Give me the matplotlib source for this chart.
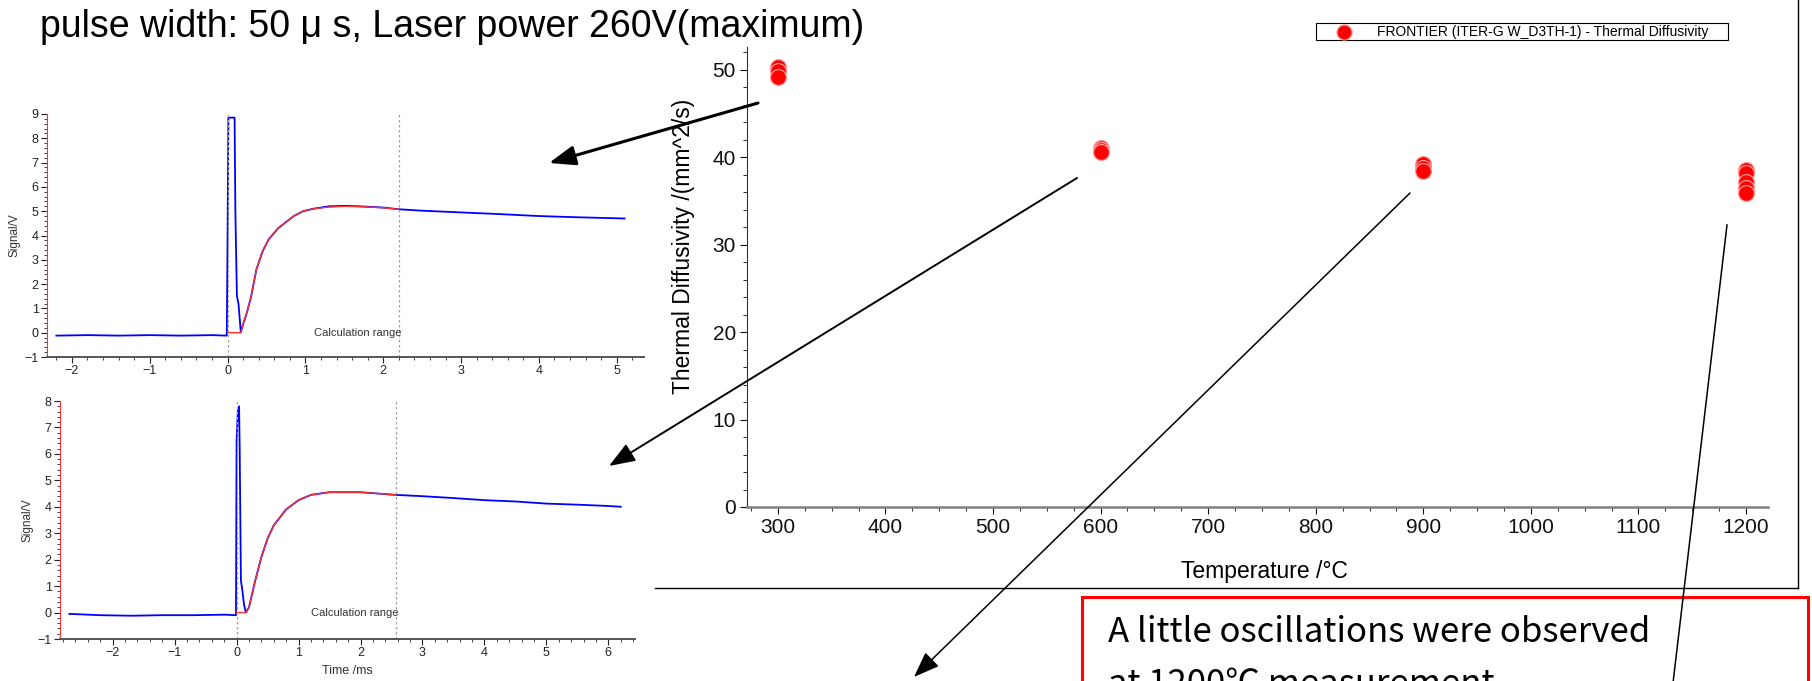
import numpy as np
import matplotlib
matplotlib.use('Agg')
import matplotlib.pyplot as plt
from matplotlib.lines import Line2D
from matplotlib.patches import Rectangle
from matplotlib.ticker import MultipleLocator

SANS = ['Liberation Sans', 'DejaVu Sans']
JP = ['Noto Sans CJK JP', 'DejaVu Sans']

# thermal diffusivity vs temperature
temp = [300, 300, 300, 600, 600, 600, 900, 900, 900, 1200, 1200, 1200, 1200, 1200]
diffusivity = [50.3, 49.9, 49.2, 41.1, 40.8, 40.6, 39.2, 38.8, 38.4, 38.5, 38.2, 37.2, 36.5, 35.9]

# signal at 300C (top inset)
t_top = [-2.2, -1.8, -1.4, -1.0, -0.6, -0.2, -0.01, 0.0, 0.01, 0.09, 0.1, 0.12, 0.14, 0.17,
         0.2, 0.25, 0.3, 0.37, 0.45, 0.53, 0.65, 0.75, 0.85, 0.97, 1.1, 1.3, 1.5, 1.7, 2.0,
         2.2, 2.5, 3.0, 3.5, 4.0, 4.5, 5.1]
v_top = [-0.12, -0.1, -0.12, -0.1, -0.12, -0.1, -0.12, 4.0, 8.85, 8.85, 5.0, 1.5, 1.2, 0.02,
         0.35, 0.85, 1.45, 2.6, 3.35, 3.85, 4.3, 4.55, 4.8, 5.0, 5.1, 5.2, 5.22, 5.2, 5.15,
         5.08, 5.02, 4.95, 4.88, 4.8, 4.75, 4.7]
fit_t_top = [0.0, 0.17, 0.2, 0.25, 0.3, 0.37, 0.45, 0.53, 0.65, 0.75, 0.85, 0.97, 1.1, 1.3,
             1.5, 1.7, 2.0, 2.2]
fit_v_top = [0.0, 0.0, 0.35, 0.85, 1.45, 2.6, 3.35, 3.85, 4.3, 4.55, 4.8, 5.0, 5.1, 5.17,
             5.2, 5.19, 5.14, 5.08]
range_top = 2.2

# signal at 600C (bottom inset)
t_bot = [-2.7, -2.2, -1.7, -1.2, -0.7, -0.2, -0.01, 0.0, 0.02, 0.04, 0.05, 0.07, 0.09, 0.12,
         0.15, 0.2, 0.3, 0.4, 0.5, 0.6, 0.8, 1.0, 1.2, 1.5, 2.0, 2.57, 3.0, 3.5, 4.0, 4.5,
         5.0, 5.5, 6.0, 6.2]
v_bot = [-0.05, -0.1, -0.12, -0.1, -0.1, -0.08, -0.1, 6.5, 7.6, 7.8, 6.2, 1.2, 0.9, 0.3,
         0.0, 0.2, 1.2, 2.1, 2.8, 3.3, 3.9, 4.25, 4.45, 4.55, 4.55, 4.45, 4.4, 4.33, 4.25,
         4.2, 4.12, 4.08, 4.03, 4.0]
fit_t_bot = [0.0, 0.15, 0.2, 0.3, 0.4, 0.5, 0.6, 0.8, 1.0, 1.2, 1.5, 2.0, 2.57]
fit_v_bot = [0.0, 0.0, 0.2, 1.2, 2.1, 2.8, 3.3, 3.9, 4.25, 4.45, 4.55, 4.55, 4.45]
range_bot = 2.57

W, H = 1812, 681
fig = plt.figure(figsize=(W / 100, H / 100), dpi=100)


def px_axes(x0, y0, x1, y1):
    # image pixel box (top-left origin) -> figure axes
    return fig.add_axes([x0 / W, 1 - y1 / H, (x1 - x0) / W, (y1 - y0) / H])


def signal_panel(ax, t, v, ft, fv, rng, xlim, ylim, xlabel):
    ax.plot(t, v, color='#0000ff', lw=1.3)
    ax.plot(ft, fv, color='#ff3030', lw=1.0)
    for x in (0, rng):
        ax.axvline(x, color='#a0a0a0', lw=0.9, ls=(0, (2, 2)))
    ax.text(rng + 0.04, 0.0, 'Calculation range', ha='right', va='center',
            fontsize=8, family=SANS, color='#333333')
    ax.set_xlim(*xlim)
    ax.set_ylim(*ylim)
    ax.xaxis.set_major_locator(MultipleLocator(1))
    ax.xaxis.set_minor_locator(MultipleLocator(0.2))
    ax.yaxis.set_major_locator(MultipleLocator(1))
    ax.yaxis.set_minor_locator(MultipleLocator(0.2))
    for s in ('top', 'right'):
        ax.spines[s].set_visible(False)
    ax.spines['left'].set_color('#ff3030')
    ax.spines['bottom'].set_color('#555555')
    ax.spines['bottom'].set_linewidth(1.4)
    ax.tick_params(which='both', direction='out', labelsize=9, colors='#222222')
    ax.tick_params(which='major', length=4, pad=2)
    ax.tick_params(which='minor', length=2)
    for lab in ax.get_xticklabels() + ax.get_yticklabels():
        lab.set_family(SANS)
    ax.set_ylabel('Signal/V', fontsize=8.5, family=SANS, color='#333333', labelpad=3)
    if xlabel:
        ax.set_xlabel(xlabel, fontsize=9, family=SANS, color='#333333', labelpad=4)


ax1 = px_axes(47, 114, 644, 357)
signal_panel(ax1, t_top, v_top, fit_t_top, fit_v_top, range_top, (-2.32, 5.35), (-1, 9), None)
ax2 = px_axes(60, 401, 635, 639)
signal_panel(ax2, t_bot, v_bot, fit_t_bot, fit_v_bot, range_bot, (-2.85, 6.43), (-1, 8), 'Time /ms')

# main chart
ax = px_axes(747, 47, 1768, 507)
ax.scatter(temp, diffusivity, s=130, color='#ff0000', edgecolors='#ff9a9a', linewidths=0.9,
           zorder=3, label='FRONTIER (ITER-G W_D3TH-1) - Thermal Diffusivity')
ax.set_xlim(271.3, 1220.4)
ax.set_ylim(0, 52.6)
ax.xaxis.set_major_locator(MultipleLocator(100))
ax.xaxis.set_minor_locator(MultipleLocator(25))
ax.yaxis.set_major_locator(MultipleLocator(10))
ax.yaxis.set_minor_locator(MultipleLocator(2))
for s in ('top', 'right'):
    ax.spines[s].set_visible(False)
ax.spines['left'].set_color('#333333')
ax.spines['left'].set_linewidth(0.8)
ax.spines['bottom'].set_color('#808080')
ax.spines['bottom'].set_linewidth(1.8)
ax.tick_params(which='both', direction='out', labelsize=15, colors='#111111')
ax.tick_params(which='major', length=5, pad=3)
ax.tick_params(which='minor', length=3)
for lab in ax.get_xticklabels() + ax.get_yticklabels():
    lab.set_family(SANS)
ax.set_xlabel('Temperature /°C', fontsize=16.5, family=SANS)
ax.set_ylabel('Thermal Diffusivity /(mm^2/s)', fontsize=16.5, family=SANS)
ax.xaxis.set_label_coords(0.507, -0.115)
ax.yaxis.set_label_coords(-0.051, 0.566)
leg = ax.legend(loc='lower left', bbox_to_anchor=(1316 / W, 1 - 40 / H, 412 / W, 18 / H),
                bbox_transform=fig.transFigure, mode='expand', fancybox=False,
                edgecolor='black', framealpha=1, borderpad=0.1, handlelength=3.8,
                handletextpad=0.5, prop={'family': SANS, 'size': 10}, markerscale=0.95,
                borderaxespad=0)
leg.get_frame().set_linewidth(0.8)

# frame of the pasted chart
fig.add_artist(Line2D([1798 / W, 1798 / W], [1, 1 - 588 / H], color='black', lw=1.0))
fig.add_artist(Line2D([655 / W, 1798 / W], [1 - 588 / H, 1 - 588 / H], color='black', lw=1.0))

# title
fig.text(40 / W, 1 - 27 / H, 'pulse width: 50 μ s, Laser power 260V(maximum)',
         fontsize=27, family=SANS, va='center', ha='left')

# note box
fig.add_artist(Rectangle((1082 / W, 1 - 720 / H), (1808 - 1082) / W, (720 - 597) / H,
                         transform=fig.transFigure, fill=False, edgecolor='#ff0000', lw=2.2))
fig.text(1108 / W, 1 - 632 / H, 'A little oscillations were observed',
         fontsize=25, family=JP, va='center', ha='left')
fig.text(1108 / W, 1 - 684 / H, 'at 1200℃ measurement',
         fontsize=25, family=JP, va='center', ha='left')

# arrows (figure pixel coords, origin bottom-left)
arrows = [((758, 578), (549, 518), 2.2),
          ((1077, 503), (609, 215), 1.4),
          ((1410, 488), (914, 4), 1.1)]
for start, end, lw in arrows:
    ax.annotate('', xy=end, xytext=start, xycoords='figure pixels', textcoords='figure pixels',
                arrowprops=dict(arrowstyle='-|>,head_length=1.6,head_width=0.6', color='black',
                                lw=lw, shrinkA=0, shrinkB=0, mutation_scale=10),
                annotation_clip=False)
fig.add_artist(Line2D([1727 / W, 1671 / W], [1 - 225 / H, 1 - 700 / H], color='black', lw=1.1))

fig.savefig('out.png', dpi=100)
